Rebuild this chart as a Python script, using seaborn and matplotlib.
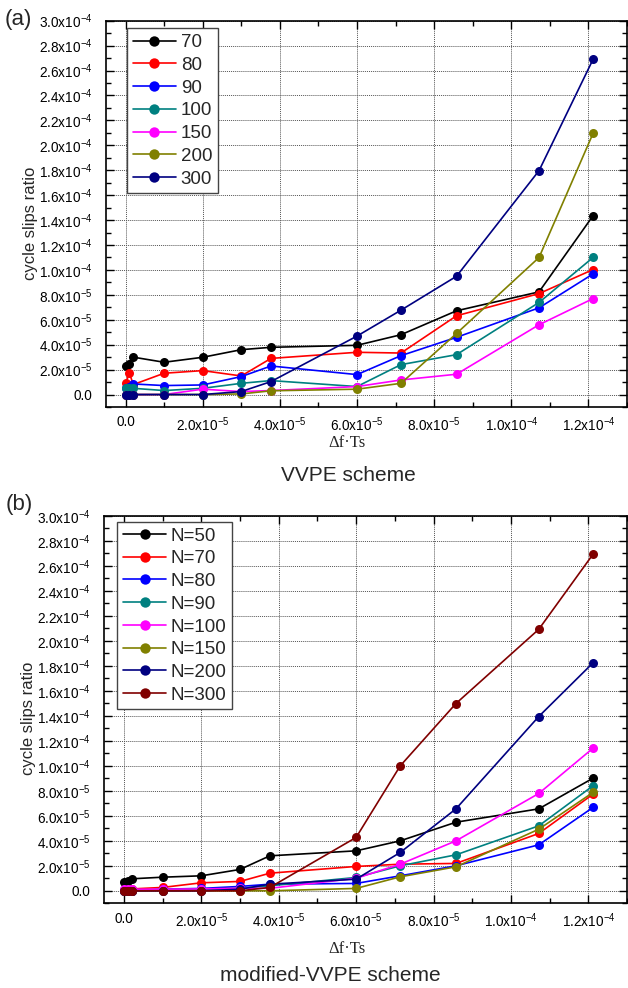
import numpy as np
import pandas as pd
import matplotlib
matplotlib.use("Agg")
import matplotlib.pyplot as plt
import seaborn as sns
from matplotlib.ticker import FixedLocator, MultipleLocator

sns.set_theme(style="white")
plt.rcParams['font.family'] = ['Liberation Sans', 'DejaVu Sans']
plt.rcParams['mathtext.fontset'] = 'custom'
plt.rcParams['mathtext.rm'] = 'Liberation Sans'
plt.rcParams['mathtext.it'] = 'Liberation Sans:italic'
plt.rcParams['mathtext.bf'] = 'Liberation Sans:bold'

# ---------------- data ----------------
x_vals = [0.0, 1.0e-6, 2.0e-6, 1.0e-5, 2.0e-5, 3.0e-5, 3.77e-5,
          6.0e-5, 7.14e-5, 8.58e-5, 1.072e-4, 1.212e-4]

labels_a = ["70", "80", "90", "100", "150", "200", "300"]
a_70 = [2.32e-5, 2.45e-5, 3.0e-5, 2.59e-5, 2.99e-5, 3.6e-5, 3.79e-5, 3.95e-5, 4.8e-5, 6.72e-5, 8.24e-5, 14.35e-5]
a_80 = [0.9e-5, 1.72e-5, 0.8e-5, 1.71e-5, 1.92e-5, 1.49e-5, 2.9e-5, 3.39e-5, 3.33e-5, 6.32e-5, 8.1e-5, 10.03e-5]
a_90 = [0.5e-5, 0.6e-5, 0.85e-5, 0.72e-5, 0.77e-5, 1.44e-5, 2.29e-5, 1.6e-5, 3.12e-5, 4.59e-5, 6.96e-5, 9.68e-5]
a_100 = [0.56e-5, 0.56e-5, 0.5e-5, 0.32e-5, 0.5e-5, 0.9e-5, 1.12e-5, 0.64e-5, 2.4e-5, 3.2e-5, 7.39e-5, 11.0e-5]
a_150 = [0.0, 0.0, 0.0, 0.0, 0.43e-5, 0.24e-5, 0.32e-5, 0.64e-5, 1.17e-5, 1.63e-5, 5.6e-5, 7.7e-5]
a_200 = [0.0, 0.0, 0.0, 0.0, 0.0, 0.05e-5, 0.3e-5, 0.43e-5, 0.9e-5, 4.9e-5, 11.0e-5, 20.96e-5]
a_300 = [0.0, 0.0, 0.0, 0.0, 0.0, 0.24e-5, 1.04e-5, 4.69e-5, 6.77e-5, 9.49e-5, 17.97e-5, 26.9e-5]
series_a = [a_70, a_80, a_90, a_100, a_150, a_200, a_300]

labels_b = ["N=50", "N=70", "N=80", "N=90", "N=100", "N=150", "N=200", "N=300"]
b_50 = [0.67e-5, 0.8e-5, 0.96e-5, 1.09e-5, 1.2e-5, 1.71e-5, 2.8e-5, 3.2e-5, 4.0e-5, 5.49e-5, 6.56e-5, 9.01e-5]
b_70 = [0.05e-5, 0.1e-5, 0.15e-5, 0.27e-5, 0.64e-5, 0.75e-5, 1.41e-5, 1.95e-5, 2.13e-5, 2.19e-5, 4.59e-5, 7.73e-5]
b_80 = [0.0, 0.0, 0.0, 0.13e-5, 0.19e-5, 0.35e-5, 0.53e-5, 0.59e-5, 1.2e-5, 2.0e-5, 3.68e-5, 6.67e-5]
b_90 = [0.05e-5, 0.05e-5, 0.05e-5, 0.1e-5, 0.13e-5, 0.2e-5, 0.4e-5, 1.07e-5, 2.0e-5, 2.88e-5, 5.2e-5, 8.4e-5]
b_100 = [0.13e-5, 0.13e-5, 0.13e-5, 0.13e-5, 0.15e-5, 0.2e-5, 0.2e-5, 1.0e-5, 2.13e-5, 4.0e-5, 7.79e-5, 11.41e-5]
b_150 = [0.0, 0.0, 0.0, 0.0, 0.0, 0.0, 0.0, 0.19e-5, 1.12e-5, 1.92e-5, 4.93e-5, 7.87e-5]
b_200 = [0.0, 0.0, 0.0, 0.0, 0.0, 0.13e-5, 0.53e-5, 0.93e-5, 3.07e-5, 6.56e-5, 13.95e-5, 18.24e-5]
b_300 = [0.0, 0.0, 0.0, 0.0, 0.0, 0.0, 0.27e-5, 4.27e-5, 10.0e-5, 14.99e-5, 20.93e-5, 26.93e-5]
series_b = [b_50, b_70, b_80, b_90, b_100, b_150, b_200, b_300]

colors_a = ["#000000", "#FF0000", "#0000FF", "#008080", "#FF00FF", "#808000", "#000080"]
colors_b = ["#000000", "#FF0000", "#0000FF", "#008080", "#FF00FF", "#808000", "#000080", "#800000"]

x_ticks = [0.0, 2e-5, 4e-5, 6e-5, 8e-5, 1.0e-4, 1.2e-4]
x_ticklabels = ["0.0", "2.0x10$^{-5}$", "4.0x10$^{-5}$", "6.0x10$^{-5}$", "8.0x10$^{-5}$",
                "1.0x10$^{-4}$", "1.2x10$^{-4}$"]
y_ticks = [i * 2e-5 for i in range(16)]
y_ticklabels = ["0.0", "2.0x10$^{-5}$", "4.0x10$^{-5}$", "6.0x10$^{-5}$", "8.0x10$^{-5}$",
                "1.0x10$^{-4}$", "1.2x10$^{-4}$", "1.4x10$^{-4}$", "1.6x10$^{-4}$", "1.8x10$^{-4}$",
                "2.0x10$^{-4}$", "2.2x10$^{-4}$", "2.4x10$^{-4}$", "2.6x10$^{-4}$", "2.8x10$^{-4}$",
                "3.0x10$^{-4}$"]

# ---------------- figure ----------------
fig = plt.figure(figsize=(6.28, 9.88), dpi=100)
W, H = 628, 988

def add_axes_px(l, t, r, b):
    return fig.add_axes([l / W, 1 - b / H, (r - l) / W, (b - t) / H])

ax_a = add_axes_px(105.5, 20.7, 627, 407)
ax_b = add_axes_px(103.8, 516, 627, 903.3)

def draw(ax, series, labels, colors, leg_anchor, ylab_y):
    for ys, lab, col in zip(series, labels, colors):
        df = pd.DataFrame({"x": x_vals, "y": ys})
        sns.lineplot(data=df, x="x", y="y", ax=ax, color=col, marker="o",
                     markersize=6.5, markeredgewidth=0, linewidth=1.2, label=lab,
                     sort=False, errorbar=None)
    ax.set_xlim(-5.2e-6, 1.3e-4)
    ax.set_ylim(-1e-5, 3.0e-4)
    ax.xaxis.set_major_locator(FixedLocator(x_ticks))
    ax.set_xticklabels(x_ticklabels)
    ax.xaxis.set_minor_locator(MultipleLocator(1e-5))
    ax.yaxis.set_major_locator(FixedLocator(y_ticks))
    ax.set_yticklabels(y_ticklabels)
    ax.yaxis.set_minor_locator(MultipleLocator(1e-5))
    ax.tick_params(which="both", direction="in", top=True, right=True,
                   bottom=True, left=True, colors="black", labelsize=9.8, width=1.0)
    ax.tick_params(which="major", length=5.5)
    ax.tick_params(which="minor", length=3.5)
    ax.tick_params(axis="x", pad=6)
    ax.tick_params(axis="y", pad=9.5)
    ax.grid(True, which="major", color="#555555", linestyle=(0, (1, 1)), linewidth=0.7)
    for sp in ax.spines.values():
        sp.set_visible(True)
        sp.set_color("black")
        sp.set_linewidth(1.2)
    ax.set_xlabel("")
    ax.set_ylabel("cycle slips ratio", fontsize=12)
    ax.yaxis.set_label_coords(-0.129, ylab_y)
    leg = ax.legend(loc="upper left", bbox_to_anchor=leg_anchor, borderaxespad=0,
                    fontsize=13.5, frameon=True, fancybox=False, handlelength=2.3,
                    labelspacing=0.3, handletextpad=0.25, borderpad=0.3, markerscale=1.15)
    leg.get_frame().set_edgecolor("#444444")
    leg.get_frame().set_linewidth(1.0)
    leg.get_frame().set_alpha(1.0)

draw(ax_a, series_a, labels_a, colors_a, (0.0416, 0.980), 0.476)
draw(ax_b, series_b, labels_b, colors_b, (0.026, 0.985), 0.478)

# x labels & titles
fig.text(347 / W, 1 - 443 / H, "Δf·Ts", ha="center", va="center", fontsize=12,
         family=["Liberation Serif", "DejaVu Serif"])
fig.text(348 / W, 1 - 475 / H, "VVPE scheme", ha="center", va="center", fontsize=15)
fig.text(347 / W, 1 - 949 / H, "Δf·Ts", ha="center", va="center", fontsize=12,
         family=["Liberation Serif", "DejaVu Serif"])
fig.text(330 / W, 1 - 975 / H, "modified-VVPE scheme", ha="center", va="center", fontsize=15)

fig.text(5 / W, 1 - 20 / H, "(a)", ha="left", va="center", fontsize=16)
fig.text(6 / W, 1 - 504 / H, "(b)", ha="left", va="center", fontsize=16)

fig.savefig("out.png", dpi=100)
